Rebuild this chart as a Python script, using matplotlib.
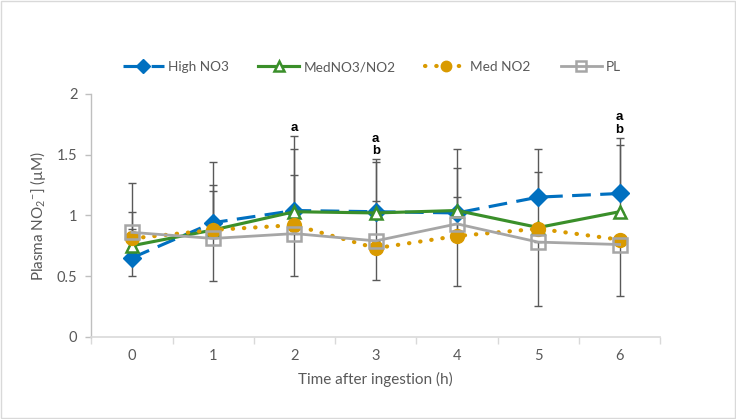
import matplotlib
matplotlib.use("Agg")
import matplotlib.pyplot as plt
from matplotlib.patches import Rectangle
import numpy as np

plt.rcParams['font.family'] = ['Lato', 'DejaVu Sans']
plt.rcParams['mathtext.fontset'] = 'custom'
plt.rcParams['mathtext.rm'] = 'Lato'
plt.rcParams['mathtext.it'] = 'Lato'

hours = [0, 1, 2, 3, 4, 5, 6]
x_labels = ['0', '1', '2', '3', '4', '5', '6']

high_no3 = [0.65, 0.94, 1.04, 1.03, 1.02, 1.15, 1.18]
high_no3_up = [0.38, 0.50, 0.61, 0.435, 0.53, 0.395, 0.46]

med_no3_no2 = [0.75, 0.88, 1.03, 1.02, 1.04, 0.90, 1.03]
med_no3_no2_up = [0.14, 0.37, 0.52, 0.42, 0.35, 0.455, 0.55]

med_no2 = [0.81, 0.88, 0.92, 0.73, 0.83, 0.89, 0.80]
med_no2_up = [0.46, 0.32, 0.41, 0.39, 0.32, 0.0, 0.0]

pl = [0.86, 0.81, 0.85, 0.79, 0.93, 0.78, 0.76]
pl_down = [0.36, 0.35, 0.35, 0.32, 0.51, 0.525, 0.42]

letters = [(2, 1.72, 'a'), (3, 1.63, 'a'), (3, 1.53, 'b'), (6, 1.81, 'a'), (6, 1.70, 'b')]

fig = plt.figure(figsize=(7.36, 4.19), dpi=100)
ax = fig.add_axes([0.124, 0.196, 0.773, 0.58])

err_kw = dict(fmt='none', ecolor='#595959', elinewidth=1.0, capsize=3, capthick=1.0, zorder=2)
zeros = [0] * len(hours)
ax.errorbar(hours, high_no3, yerr=[zeros, high_no3_up], **err_kw)
ax.errorbar(hours, med_no3_no2, yerr=[zeros, med_no3_no2_up], **err_kw)
ax.errorbar(hours, med_no2, yerr=[zeros, med_no2_up], **err_kw)
ax.errorbar(hours, pl, yerr=[pl_down, zeros], **err_kw)

ax.plot(hours, high_no3, color='#0070C0', lw=2.25, ls=(0, (6, 3)), marker='D',
        ms=9, mfc='#0070C0', mec='#0070C0', label='High NO3', zorder=3)
ax.plot(hours, med_no3_no2, color='#3A8F2A', lw=2.25, marker='^', ms=9,
        mfc='white', mec='#3A8F2A', mew=1.8, label='MedNO3/NO2', zorder=4)
ax.plot(hours, med_no2, color='#D99A00', lw=3, ls=(0, (0.1, 2.6)), dash_capstyle='round',
        marker='o', ms=10, mfc='#D99A00', mec='#D99A00', label='Med NO2', zorder=5)
ax.plot(hours, pl, color='#A6A6A6', lw=2, marker='s', ms=10, mfc='none',
        mec='#A6A6A6', mew=1.8, label='PL', zorder=6)

for xi, yi, t in letters:
    ax.text(xi, yi, t, ha='center', va='center', fontsize=9.5, fontweight='bold',
            color='black', family='Liberation Sans')

ax.set_xlim(-0.5, 6.5)
ax.set_ylim(0, 2)
ax.set_xticks(hours)
ax.set_xticklabels(x_labels)
ax.set_xticks(np.arange(-0.5, 7.0, 1.0), minor=True)
ax.tick_params(axis='x', which='major', length=0, pad=9, labelsize=10.5, labelcolor='#595959')
ax.tick_params(axis='x', which='minor', length=5, color='#D9D9D9', width=1)
ax.set_yticks([0, 0.5, 1, 1.5, 2])
ax.set_yticklabels(['0', '0.5', '1', '1.5', '2'])
ax.tick_params(axis='y', length=4, color='#BFBFBF', width=1, labelsize=10.5,
               labelcolor='#595959', pad=6)

for s in ['top', 'right']:
    ax.spines[s].set_visible(False)
ax.spines['bottom'].set_color('#D9D9D9')
ax.spines['bottom'].set_linewidth(1.2)
ax.spines['left'].set_color('#BFBFBF')
ax.spines['left'].set_linewidth(1.0)

ax.set_xlabel('Time after ingestion (h)', fontsize=11, color='#595959', labelpad=6)
ax.set_ylabel(r'Plasma NO$_2$$^{-}$] (µM)', fontsize=11, color='#595959', labelpad=6)

leg = fig.legend(loc='center', bbox_to_anchor=(0.505, 0.84), ncol=4, frameon=False,
                 fontsize=9.8, handlelength=3.0, columnspacing=2.2, handletextpad=0.3,
                 markerscale=0.75, labelcolor='#595959')

fig.patches.append(Rectangle((0.002, 0.003), 0.996, 0.994, transform=fig.transFigure,
                             fill=False, edgecolor='#D9D9D9', lw=1))

fig.savefig('out.png', dpi=100)
